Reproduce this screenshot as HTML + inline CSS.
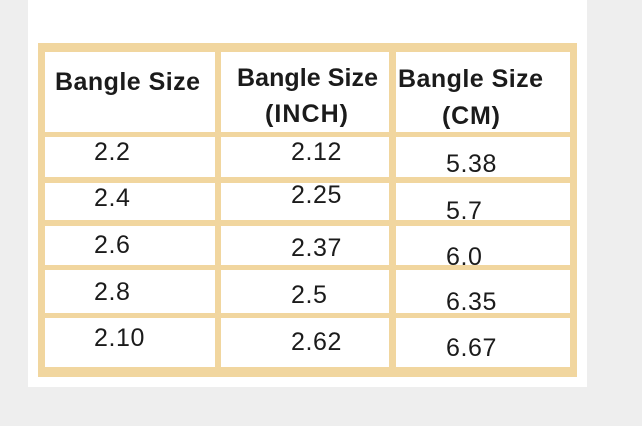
<!DOCTYPE html>
<html><head><meta charset="utf-8"><style>
html,body{margin:0;padding:0;background:#eeeeee;}
svg{display:block;}
text{font-family:"Liberation Sans",sans-serif;fill:#1b1b1b;}
.h{font-weight:bold;font-size:25px;}
.d{font-size:25px;letter-spacing:0.6px;}
</style></head><body>
<svg width="642" height="426" viewBox="0 0 642 426" xmlns="http://www.w3.org/2000/svg">
<rect x="0" y="0" width="642" height="426" fill="#eeeeee"/>
<rect x="28" y="0" width="559" height="387" fill="#ffffff"/>
<rect x="38" y="43" width="539" height="334" fill="#f1d69f"/>
<g fill="#ffffff">
<rect x="45" y="52" width="170" height="80"/><rect x="221" y="52" width="168" height="80"/><rect x="396" y="52" width="174" height="80"/>
<rect x="45" y="137" width="170" height="40"/><rect x="221" y="137" width="168" height="40"/><rect x="396" y="137" width="174" height="40"/>
<rect x="45" y="183" width="170" height="37"/><rect x="221" y="183" width="168" height="37"/><rect x="396" y="183" width="174" height="37"/>
<rect x="45" y="226" width="170" height="39"/><rect x="221" y="226" width="168" height="39"/><rect x="396" y="226" width="174" height="39"/>
<rect x="45" y="270" width="170" height="43"/><rect x="221" y="270" width="168" height="43"/><rect x="396" y="270" width="174" height="43"/>
<rect x="45" y="318" width="170" height="49"/><rect x="221" y="318" width="168" height="49"/><rect x="396" y="318" width="174" height="49"/>
</g>
<text class="h" x="55" y="90" textLength="145" lengthAdjust="spacing">Bangle Size</text>
<text class="h" x="237" y="86" textLength="141" lengthAdjust="spacing">Bangle Size</text>
<text class="h" x="265" y="122" textLength="83" lengthAdjust="spacing">(INCH)</text>
<text class="h" x="398" y="87" textLength="145" lengthAdjust="spacing">Bangle Size</text>
<text class="h" x="442" y="124" textLength="58" lengthAdjust="spacing">(CM)</text>

<text class="d" x="94" y="160">2.2</text>
<text class="d" x="94" y="206">2.4</text>
<text class="d" x="94" y="253">2.6</text>
<text class="d" x="94" y="300">2.8</text>
<text class="d" x="94" y="346">2.10</text>

<text class="d" x="291" y="160">2.12</text>
<text class="d" x="291" y="203">2.25</text>
<text class="d" x="291" y="256">2.37</text>
<text class="d" x="291" y="303">2.5</text>
<text class="d" x="291" y="350">2.62</text>

<text class="d" x="446" y="172">5.38</text>
<text class="d" x="446" y="219">5.7</text>
<text class="d" x="446" y="265">6.0</text>
<text class="d" x="446" y="310">6.35</text>
<text class="d" x="446" y="356">6.67</text>
</svg>
</body></html>
